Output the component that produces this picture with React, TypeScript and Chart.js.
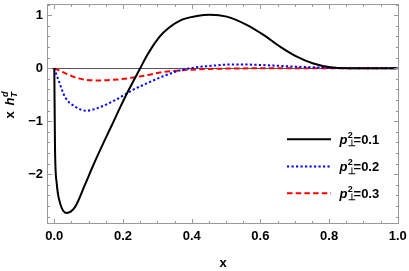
import React, { useEffect, useRef } from "react";
import { Chart, registerables } from "chart.js";

Chart.register(...registerables);

// ---- data ----
const blackX = [0, 0.002, 0.007, 0.017, 0.036, 0.06, 0.089, 0.114, 0.14, 0.167, 0.19, 0.215, 0.25, 0.269, 0.293, 0.317, 0.366, 0.415, 0.453, 0.502, 0.56, 0.609, 0.657, 0.706, 0.754, 0.803, 0.85, 0.9, 1.0];
const blackY = [0, -1.5, -2.17, -2.55, -2.73, -2.62, -2.2, -1.82, -1.45, -1.08, -0.76, -0.43, 0, 0.23, 0.48, 0.67, 0.9, 0.985, 1.01, 0.975, 0.82, 0.63, 0.41, 0.22, 0.09, 0.02, 0, 0, 0];

const blueX = [0, 0.004, 0.012, 0.031, 0.06, 0.094, 0.138, 0.186, 0.225, 0.264, 0.317, 0.366, 0.415, 0.463, 0.511, 0.56, 0.609, 0.657, 0.706, 0.754, 0.803, 0.9, 1.0];
const blueY = [0, -0.08, -0.22, -0.54, -0.72, -0.8, -0.72, -0.57, -0.42, -0.3, -0.15, -0.04, 0.02, 0.05, 0.07, 0.07, 0.06, 0.045, 0.03, 0.018, 0.01, 0, 0];

const redX = [0, 0.031, 0.07, 0.128, 0.186, 0.23, 0.269, 0.317, 0.366, 0.415, 0.511, 0.6, 1.0];
const redY = [0, -0.09, -0.19, -0.23, -0.21, -0.175, -0.13, -0.07, -0.04, -0.02, -0.005, 0, 0];

const seriesLabels = ["0.1", "0.2", "0.3"];
const xTickValues = [0, 0.2, 0.4, 0.6, 0.8, 1.0];
const yTickValues = [-2, -1, 0, 1];
const xMinorStep = 0.05;
const yMinorStep = 0.2;

const FONT = '"Liberation Sans", Arial, sans-serif';
const colors = ["#000000", "#0000ff", "#ff0000"];
const dashes: number[][] = [[], [2.2, 2.3], [5.5, 3.2]];

const toPts = (xs: number[], ys: number[]) => xs.map((x, i) => ({ x, y: ys[i] }));

const FRAME = "#999999";

const decorPlugin = {
  id: "decor",
  beforeDatasetsDraw(chart: any) {
    const { ctx, chartArea: a, scales } = chart;
    const y0 = Math.round(scales.y.getPixelForValue(0));
    ctx.save();
    ctx.fillStyle = "#555555";
    ctx.fillRect(Math.round(a.left), y0, Math.round(a.right) - Math.round(a.left), 1);
    ctx.restore();
  },
  afterDraw(chart: any) {
    const { ctx, chartArea: a, scales } = chart;
    const sx = scales.x;
    const sy = scales.y;
    ctx.save();
    ctx.setLineDash([]);
    ctx.globalAlpha = 1;
    const L = Math.round(a.left);
    const R = Math.round(a.right) - 1;
    const T = Math.round(a.top);
    const B = Math.round(a.bottom) - 1;
    // frame (1px rects)
    ctx.fillStyle = FRAME;
    ctx.fillRect(L, T, R - L + 1, 1);
    ctx.fillRect(L, B, R - L + 1, 1);
    ctx.fillRect(L, T, 1, B - T + 1);
    ctx.fillRect(R, T, 1, B - T + 1);
    // ticks inward
    for (let k = 0; k <= 20; k++) {
      const v = k * xMinorStep;
      const isMajor = xTickValues.some((t) => Math.abs(t - v) < 1e-6);
      const len = isMajor ? 5 : 3;
      const px = Math.round(sx.getPixelForValue(v));
      ctx.fillRect(px, B - len + 1, 1, len);
      ctx.fillRect(px, T, 1, len);
    }
    for (let k = -14; k <= 6; k++) {
      const v = k * yMinorStep;
      const isMajor = yTickValues.some((t) => Math.abs(t - v) < 1e-6);
      const len = isMajor ? 5 : 3;
      const py = Math.round(sy.getPixelForValue(v));
      ctx.fillRect(L, py, len, 1);
      ctx.fillRect(R - len + 1, py, len, 1);
    }

    // legend
    const lx0 = a.right - 112;
    const lx1 = a.right - 68;
    const tx = a.right - 59.5;
    const rows = [139.3, 166.5, 193.3].map((r) => a.top + (r - 4));
    seriesLabels.forEach((lab, i) => {
      const cy = rows[i];
      ctx.strokeStyle = colors[i];
      ctx.lineWidth = 2;
      ctx.setLineDash(dashes[i]);
      ctx.beginPath();
      ctx.moveTo(lx0, cy);
      ctx.lineTo(lx1, cy);
      ctx.stroke();
      ctx.setLineDash([]);
      ctx.fillStyle = "#000";
      ctx.textBaseline = "alphabetic";
      ctx.textAlign = "left";
      const base = cy + 4.5;
      let tx2 = tx;
      ctx.font = `italic bold 13px ${FONT}`;
      ctx.fillText("p", tx2, base);
      tx2 += ctx.measureText("p").width + 0.3;
      ctx.font = `bold 9px ${FONT}`;
      ctx.fillText("2", tx2, base - 6);
      ctx.fillText("\u22a5", tx2, base + 2.5);
      tx2 += ctx.measureText("2").width + 0.8;
      ctx.font = `bold 13px ${FONT}`;
      ctx.fillText("=" + lab, tx2, base);
    });

    // y axis title: x h_T^d (rotated)
    ctx.save();
    ctx.translate(14, 105);
    ctx.rotate(-Math.PI / 2);
    ctx.fillStyle = "#000";
    ctx.textBaseline = "alphabetic";
    ctx.textAlign = "left";
    ctx.font = `bold 13px ${FONT}`;
    const w1 = ctx.measureText("x ").width;
    ctx.font = `italic bold 13px ${FONT}`;
    const w2 = ctx.measureText("h").width;
    ctx.font = `italic bold 9px ${FONT}`;
    const w3 = ctx.measureText("d").width;
    const total = w1 + 2 + w2 + 0.5 + w3;
    let px2 = -total / 2;
    ctx.font = `bold 13px ${FONT}`;
    ctx.fillText("x ", px2, 0);
    px2 += w1 + 2;
    ctx.font = `italic bold 13px ${FONT}`;
    ctx.fillText("h", px2, 0);
    px2 += w2 + 0.5;
    ctx.font = `italic bold 9px ${FONT}`;
    ctx.fillText("d", px2, -6.5);
    ctx.fillText("T", px2 - 0.5, 3);
    ctx.restore();

    ctx.restore();
  },
};

const zeroPad = (s: any) => {
  s.paddingTop = 0;
  s.paddingBottom = 0;
  s.paddingLeft = 0;
  s.paddingRight = 0;
};

export default function App() {
  const ref = useRef<HTMLCanvasElement | null>(null);
  useEffect(() => {
    if (!ref.current) return;
    const chart = new Chart(ref.current, {
      type: "line",
      data: {
        datasets: [
          { data: toPts(blackX, blackY), borderColor: colors[0], borderWidth: 2, borderDash: dashes[0] },
          { data: toPts(blueX, blueY), borderColor: colors[1], borderWidth: 2, borderDash: dashes[1] },
          { data: toPts(redX, redY), borderColor: colors[2], borderWidth: 2, borderDash: dashes[2] },
        ].map((d) => ({ ...d, pointRadius: 0, fill: false, cubicInterpolationMode: "monotone" as const })),
      },
      options: {
        animation: false,
        responsive: false,
        maintainAspectRatio: false,
        layout: { padding: { top: 4, right: 10, left: 0, bottom: 0 } },
        plugins: { legend: { display: false }, tooltip: { enabled: false } },
        scales: {
          x: {
            type: "linear",
            min: -0.0213,
            max: 1.0035,
            grid: { display: false, drawTicks: false },
            border: { display: false },
            afterBuildTicks: (s: any) => {
              s.ticks = xTickValues.map((v) => ({ value: v }));
            },
            afterFit: (s: any) => {
              s.height = 47;
              zeroPad(s);
            },
            ticks: {
              color: "#000",
              font: { family: FONT, size: 13, weight: "bold" },
              padding: 5,
              maxRotation: 0,
              callback: (v: any) => Number(v).toFixed(1),
            },
            title: {
              display: true,
              text: "x",
              color: "#000",
              font: { family: FONT, size: 13, weight: "bold" },
              padding: { top: 8, bottom: 0 },
            },
          },
          y: {
            type: "linear",
            min: -2.938,
            max: 1.213,
            grid: { display: false, drawTicks: false },
            border: { display: false },
            afterBuildTicks: (s: any) => {
              s.ticks = yTickValues.map((v) => ({ value: v }));
            },
            afterFit: (s: any) => {
              s.width = 47;
              zeroPad(s);
            },
            ticks: {
              color: "#000",
              font: { family: FONT, size: 13, weight: "bold" },
              padding: 4,
              callback: (v: any) => (Number(v) < 0 ? "\u2212" + Math.abs(Number(v)) : String(v)),
            },
          },
        },
      },
      plugins: [decorPlugin],
    });
    return () => chart.destroy();
  }, []);
  return (
    <div style={{ position: "absolute", left: 0, top: 0, width: 409, height: 271 }}>
      <canvas ref={ref} width={409} height={271} style={{ display: "block", width: 409, height: 271 }} />
    </div>
  );
}
